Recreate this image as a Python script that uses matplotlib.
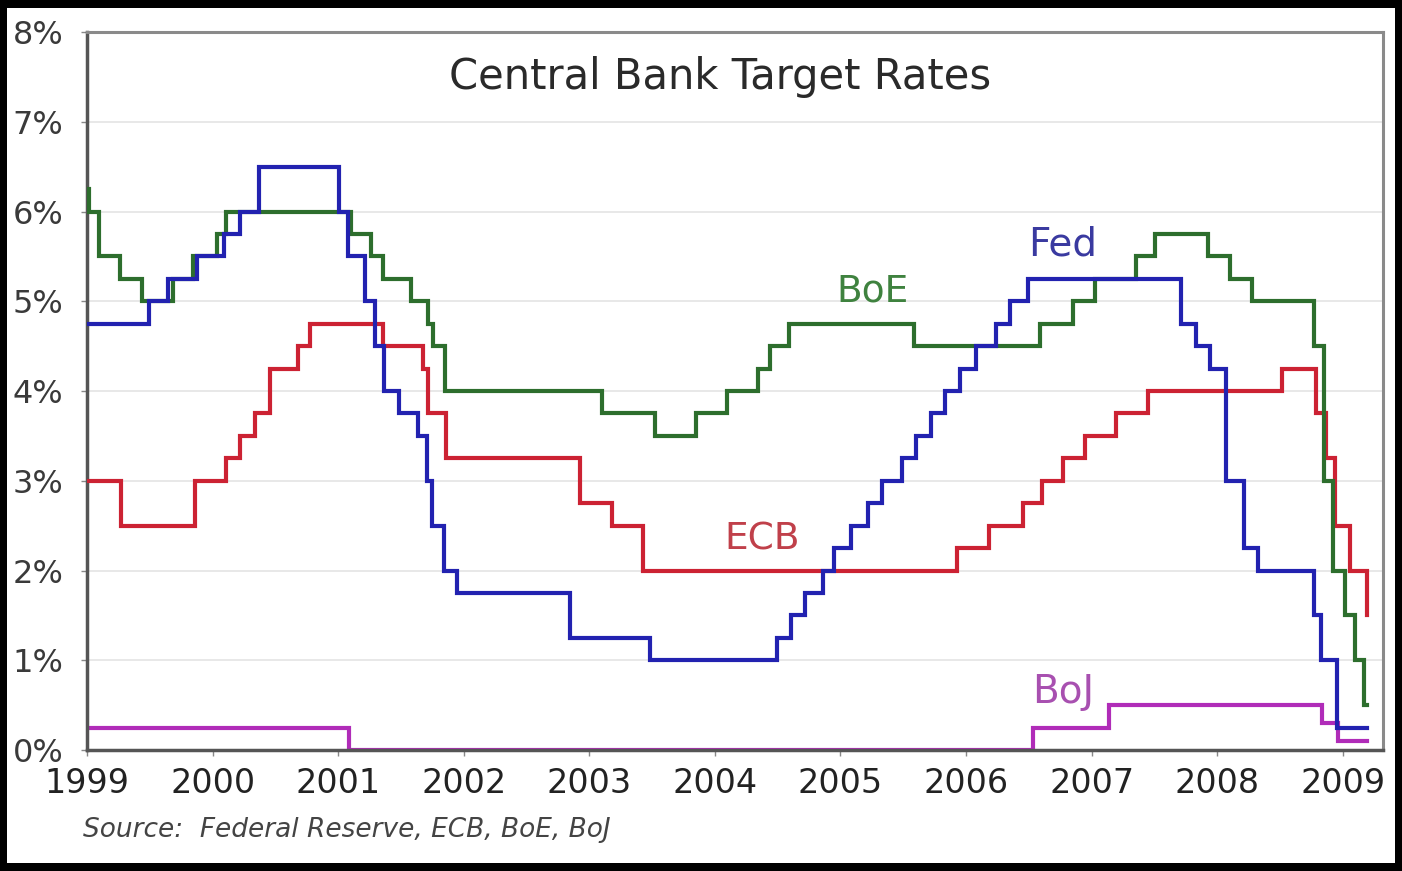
import matplotlib
matplotlib.use("Agg")
import matplotlib.pyplot as plt
from matplotlib.patches import Rectangle
import datetime as dt

# ---------------- data ----------------
fed_dates = ["1999-01-01", "1999-06-30", "1999-08-24", "1999-11-16", "2000-02-02", "2000-03-21",
             "2000-05-16", "2001-01-03", "2001-01-31", "2001-03-20", "2001-04-18", "2001-05-15",
             "2001-06-27", "2001-08-21", "2001-09-17", "2001-10-02", "2001-11-06", "2001-12-11",
             "2002-11-06", "2003-06-25", "2004-06-30", "2004-08-10", "2004-09-21", "2004-11-10",
             "2004-12-14", "2005-02-02", "2005-03-22", "2005-05-03", "2005-06-30", "2005-08-09",
             "2005-09-20", "2005-11-01", "2005-12-13", "2006-01-31", "2006-03-28", "2006-05-10",
             "2006-06-29", "2007-09-18", "2007-10-31", "2007-12-11", "2008-01-28",
             "2008-03-18", "2008-04-30", "2008-10-08", "2008-10-29", "2008-12-16", "2009-03-12"]
fed_rates = [4.75, 5.00, 5.25, 5.50, 5.75, 6.00,
             6.50, 6.00, 5.50, 5.00, 4.50, 4.00,
             3.75, 3.50, 3.00, 2.50, 2.00, 1.75,
             1.25, 1.00, 1.25, 1.50, 1.75, 2.00,
             2.25, 2.50, 2.75, 3.00, 3.25, 3.50,
             3.75, 4.00, 4.25, 4.50, 4.75, 5.00,
             5.25, 4.75, 4.50, 4.25, 3.00,
             2.25, 2.00, 1.50, 1.00, 0.25, 0.25]

boe_dates = ["1999-01-01", "1999-01-07", "1999-02-04", "1999-04-08", "1999-06-10", "1999-09-08",
             "1999-11-04", "2000-01-13", "2000-02-10", "2001-02-08", "2001-04-05", "2001-05-10",
             "2001-08-02", "2001-09-18", "2001-10-04", "2001-11-08", "2003-02-06", "2003-07-10",
             "2003-11-06", "2004-02-05", "2004-05-06", "2004-06-10", "2004-08-05", "2005-08-04",
             "2006-08-03", "2006-11-09", "2007-01-11", "2007-05-10", "2007-07-05", "2007-12-06",
             "2008-02-07", "2008-04-10", "2008-10-08", "2008-11-06", "2008-12-04", "2009-01-08",
             "2009-02-05", "2009-03-05", "2009-03-12"]
boe_rates = [6.25, 6.00, 5.50, 5.25, 5.00, 5.25,
             5.50, 5.75, 6.00, 5.75, 5.50, 5.25,
             5.00, 4.75, 4.50, 4.00, 3.75, 3.50,
             3.75, 4.00, 4.25, 4.50, 4.75, 4.50,
             4.75, 5.00, 5.25, 5.50, 5.75, 5.50,
             5.25, 5.00, 4.50, 3.00, 2.00, 1.50,
             1.00, 0.50, 0.50]

ecb_dates = ["1999-01-01", "1999-04-09", "1999-11-10", "2000-02-09", "2000-03-22", "2000-05-04",
             "2000-06-15", "2000-09-06", "2000-10-11", "2001-05-11", "2001-09-05", "2001-09-18",
             "2001-11-09", "2002-12-06", "2003-03-07", "2003-06-06", "2005-12-06", "2006-03-08",
             "2006-06-15", "2006-08-09", "2006-10-11", "2006-12-13", "2007-03-14", "2007-06-13",
             "2008-07-09", "2008-10-15", "2008-11-12", "2008-12-10", "2009-01-21", "2009-03-11",
             "2009-03-12"]
ecb_rates = [3.00, 2.50, 3.00, 3.25, 3.50, 3.75,
             4.25, 4.50, 4.75, 4.50, 4.25, 3.75,
             3.25, 2.75, 2.50, 2.00, 2.25, 2.50,
             2.75, 3.00, 3.25, 3.50, 3.75, 4.00,
             4.25, 3.75, 3.25, 2.50, 2.00, 1.50,
             1.50]

boj_dates = ["1999-01-01", "2001-02-01", "2006-07-14", "2007-02-21", "2008-10-31", "2008-12-19",
             "2009-03-12"]
boj_rates = [0.25, 0.00, 0.25, 0.50, 0.30, 0.10, 0.10]

year_ticks = list(range(1999, 2010))
pct_ticks = list(range(0, 9))
pct_labels = [f"{p}%" for p in pct_ticks]

title = "Central Bank Target Rates"
source = "Source:  Federal Reserve, ECB, BoE, BoJ"


def to_year(s):
    d = dt.date.fromisoformat(s)
    start = dt.date(d.year, 1, 1)
    end = dt.date(d.year + 1, 1, 1)
    return d.year + (d - start).days / (end - start).days


# ---------------- figure ----------------
plt.rcParams['font.family'] = ['DejaVu Sans']
W, H = 1402, 871
fig = plt.figure(figsize=(W / 100, H / 100), dpi=100)
fig.patch.set_facecolor("white")

ax = fig.add_axes([87 / W, 1 - 750 / H, (1383 - 87) / W, (750 - 32) / H])
ax.set_facecolor("white")

series = [
    (boj_dates, boj_rates, "#b02cb8", 2),
    (ecb_dates, ecb_rates, "#cc2233", 3),
    (boe_dates, boe_rates, "#2d6e2d", 4),
    (fed_dates, fed_rates, "#2222b0", 5),
]
for dts, rts, col, z in series:
    ax.step([to_year(s) for s in dts], rts, where="post", color=col, lw=3.0,
            zorder=z, solid_joinstyle="miter")

ax.set_xlim(1999.0, 2009.32)
ax.set_ylim(0, 8)
ax.set_yticks(pct_ticks)
ax.set_yticklabels(pct_labels)
ax.set_xticks(year_ticks)
ax.set_xticklabels([str(y) for y in year_ticks])
ax.tick_params(axis="y", direction="out", length=4, width=1, color="#888888",
               labelsize=23, labelcolor="#3a3a3a", pad=13)
ax.tick_params(axis="x", direction="out", length=4, width=1, color="#888888",
               labelsize=24, labelcolor="#222222", pad=8)

ax.grid(axis="y", color="#e4e4e4", lw=1.2, zorder=0)
ax.set_axisbelow(True)
for side in ["left", "bottom"]:
    ax.spines[side].set_color("#555555")
    ax.spines[side].set_linewidth(2.5)
for side in ["top", "right"]:
    ax.spines[side].set_color("#8a8a8a")
    ax.spines[side].set_linewidth(2.2)

# series labels
def px(x, y):
    return (x / W, 1 - y / H)

fig.text(*px(1063, 245), "Fed", color="#3a3aa0", fontsize=28, ha="center", va="center")
fig.text(*px(873, 292), "BoE", color="#3f823f", fontsize=27, ha="center", va="center")
fig.text(*px(762, 540), "ECB", color="#c0404a", fontsize=27, ha="center", va="center")
fig.text(*px(1063, 692), "BoJ", color="#a850b0", fontsize=28, ha="center", va="center")

fig.text(*px(720, 77), title, color="#2a2a2a", fontsize=30, fontweight="medium",
         ha="center", va="center")
fig.text(*px(83, 830), source, color="#444444", fontsize=19, style="italic",
         ha="left", va="center")

# black frame around image
for (x0, y0, w, h) in [(0, 0, 7, H), (W - 7, 0, 7, H), (0, 0, W, 8), (0, H - 8, W, 8)]:
    fig.patches.append(Rectangle((x0 / W, 1 - (y0 + h) / H), w / W, h / H,
                                 transform=fig.transFigure, facecolor="black",
                                 edgecolor="none", zorder=10))

fig.savefig("out.png", dpi=100, facecolor="white")
